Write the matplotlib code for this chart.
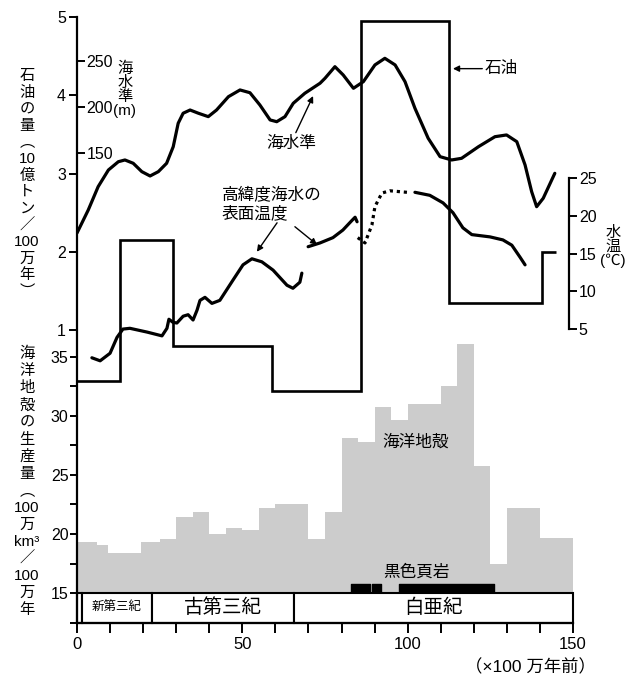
import matplotlib
matplotlib.use("Agg")
import matplotlib.pyplot as plt

plt.rcParams['font.family'] = ['Liberation Sans', 'Noto Sans CJK JP']

# oil amount (10^9 t / Myr), stepped
oil_edges = [0, 13, 29, 59, 86, 112.5, 140.5, 145]
oil_values = [0.35, 2.15, 0.8, 0.22, 4.95, 1.35, 2.0]

# ocean crust production (10^6 km3 / Myr), stepped bins
crust_edges = [0, 6, 9.5, 19.5, 25, 30, 35, 40, 45, 50, 55, 60, 70, 75, 80,
               85, 90, 95, 100, 110, 115, 120, 125, 130, 140, 150]
crust_values = [19.3, 19.1, 18.4, 19.3, 19.6, 21.4, 21.9, 20.0, 20.5, 20.3, 22.2,
                22.5, 19.6, 21.9, 28.1, 27.8, 30.8, 29.7, 31.0, 32.5, 36.1, 25.8,
                17.5, 22.2, 19.7]

# black shale intervals
shale_start = [82.9, 89.2, 97.4]
shale_end = [88.6, 91.9, 126.1]

# sea level (m)
sea_x = [0, 3.4, 6.4, 9.5, 12.5, 14.5, 17.0, 19.6, 22.1, 24.6, 27.1, 29.1, 30.6,
         32.1, 34.2, 36.7, 39.7, 42.2, 45.8, 49.3, 52.3, 55.3, 58.4, 60.4, 62.9,
         65.4, 68.9, 73.5, 75.0, 78.0, 80.5, 83.6, 86.6, 90.1, 93.1, 96.2, 99.2,
         102.2, 106.2, 109.8, 113.3, 116.3, 121.4, 126.4, 129.9, 133.0, 135.5,
         137.5, 139.0, 141.0, 144.5]
sea_m = [63, 88.0, 113.4, 131.5, 140.5, 142.4, 138.8, 129.7, 125.0, 129.7, 138.8,
         156.8, 182.3, 193.2, 196.7, 193.2, 189.5, 196.7, 211.2, 218.5, 215.5,
         202.2, 185.9, 184.0, 189.5, 204.0, 214.9, 225.8, 231.2, 243.8, 234.8,
         220.3, 227.5, 245.7, 252.9, 245.7, 227.5, 198.6, 166.0, 146.0, 142.4,
         144.2, 156.8, 167.7, 169.6, 162.3, 137.0, 107.9, 91.6, 100.8, 127.9]

# high latitude sea surface temperature (deg C), three solid parts + dotted part
temp1_x = [4.5, 7.0, 10.0, 12.1, 13.9, 16.0, 21.2, 25.7, 27.2, 27.8, 29.0, 30.2,
           32.1, 33.6, 35.1, 36.3, 37.2, 38.7, 40.8, 43.2, 47.2, 50.2, 52.9, 55.9,
           59.3, 63.5, 65.3, 67.4, 68.0]
temp1_t = [1.2, 0.8, 1.8, 3.9, 5.0, 5.1, 4.6, 4.1, 5.1, 6.3, 5.9, 5.8, 6.7, 6.9,
           6.2, 7.5, 8.8, 9.2, 8.4, 8.8, 11.5, 13.5, 14.3, 13.9, 12.8, 10.8, 10.4,
           11.2, 12.4]
temp2_x = [69.9, 73.5, 77.4, 80.4, 83.2, 84.1, 84.7]
temp2_t = [15.9, 16.4, 17.1, 18.1, 19.4, 19.8, 19.2]
tempd_x = [84.9, 87.1, 89.2, 90.1, 92.2, 94.6, 99.8]
tempd_t = [17.1, 16.4, 18.8, 21.2, 23.0, 23.3, 23.1]
temp3_x = [102.2, 106.7, 110.7, 113.7, 116.7, 119.4, 124.9, 128.8, 131.5, 134.0, 135.5]
temp3_t = [23.1, 22.7, 21.7, 20.4, 18.4, 17.5, 17.2, 16.8, 16.1, 14.5, 13.5]

# geologic periods
period_start = [0, 1.6, 22.6, 65.7]
period_end = [1.6, 22.6, 65.7, 150]
period_names = ['', '新第三紀', '古第三紀', '白亜紀']
period_size = [9, 9, 14, 14]

fig = plt.figure(figsize=(6.3, 6.75), dpi=100)
ax = fig.add_axes([77/630, 52/675, 496/630, 606/675])
ax.set_xlim(0, 150)
ax.set_ylim(12.46, 63.8)

# crust histogram
ax.stairs(crust_values, crust_edges, baseline=15, fill=True, color='#cccccc', lw=0)
ax.broken_barh([(s, e - s) for s, e in zip(shale_start, shale_end)], (15, 0.8),
               color='black')
for s, e, name, fs in zip(period_start, period_end, period_names, period_size):
    ax.add_patch(plt.Rectangle((s, 12.46), e - s, 15 - 12.46, facecolor='white',
                               edgecolor='black', lw=1.5, clip_on=False))
    ax.text((s + e) / 2, 13.73, name, ha='center', va='center', fontsize=fs)
ax.text(102.5, 27.8, '海洋地殻', ha='center', va='center', fontsize=12)
ax.text(102.8, 16.8, '黒色頁岩', ha='center', va='center', fontsize=12)

for side in ['top', 'right']:
    ax.spines[side].set_visible(False)
ax.spines['left'].set_linewidth(1.6)
ax.spines['bottom'].set_linewidth(1.6)
ax.set_yticks([15, 20, 25, 30, 35])
ax.set_yticks([12.5, 17.5, 22.5, 27.5, 32.5], minor=True)
ax.set_xticks([0, 50, 100, 150])
ax.set_xticks(range(0, 151, 10), minor=True)
ax.tick_params(axis='y', which='both', direction='out', length=5, width=1.4,
               labelsize=11.5, pad=1)
ax.tick_params(axis='x', which='both', direction='out', length=7, width=1.4,
               labelsize=12, pad=3)
ax.text(0.915, -0.072, '（×100 万年前）', transform=ax.transAxes, ha='center',
        va='center', fontsize=12.5)

# oil axis
ax_oil = ax.twinx()
ax_oil.set_ylim(-2.744, 5)
ax_oil.stairs(oil_values, oil_edges, baseline=None, color='black', lw=1.9)
ax_oil.yaxis.tick_left()
ax_oil.set_yticks([1, 2, 3, 4, 5])
ax_oil.tick_params(axis='y', direction='out', length=6, width=1.4, labelsize=11.5, pad=2)
for sp in ax_oil.spines.values():
    sp.set_visible(False)

arrow = dict(arrowstyle='-|>', color='black', lw=1.0, mutation_scale=9,
             shrinkA=0, shrinkB=0)
ax_oil.annotate('石油', xy=(113.7, 4.34), xytext=(123.4, 4.34), ha='left',
                va='center', fontsize=12, arrowprops=arrow)
ax_oil.annotate('海水準', xy=(71.4, 3.99), xytext=(64.7, 3.39), ha='center',
                va='center', fontsize=12, arrowprops=arrow)
ax_oil.text(43.8, 2.62, '高緯度海水の\n表面温度', ha='left', va='center',
            fontsize=12, linespacing=1.25)
ax_oil.annotate('', xy=(54.4, 2.0), xytext=(60.5, 2.37), arrowprops=arrow)
ax_oil.annotate('', xy=(72.6, 2.09), xytext=(65.9, 2.32), arrowprops=arrow)

# sea level axis
ax_sea = ax.twinx()
ax_sea.set_ylim(-360.9, 297.8)
ax_sea.plot(sea_x, sea_m, color='black', lw=2.3, solid_joinstyle='round',
            solid_capstyle='round')
ax_sea.spines['right'].set_position(('axes', 0))
for sp in ax_sea.spines.values():
    sp.set_visible(False)
ax_sea.set_yticks([150, 200, 250])
ax_sea.tick_params(axis='y', direction='out', length=6, width=1.4, labelsize=11.5, pad=1)

# temperature axis
ax_temp = ax.twinx()
ax_temp.set_ylim(-33.9, 46.3)
for tx, tt in [(temp1_x, temp1_t), (temp2_x, temp2_t), (temp3_x, temp3_t)]:
    ax_temp.plot(tx, tt, color='black', lw=2.3, solid_joinstyle='round',
                 solid_capstyle='round')
ax_temp.plot(tempd_x, tempd_t, color='black', lw=2.3, linestyle=(0, (1, 1.2)))
for side in ['left', 'top', 'bottom']:
    ax_temp.spines[side].set_visible(False)
ax_temp.spines['right'].set_position(('data', 148.8))
ax_temp.spines['right'].set_bounds(5, 25)
ax_temp.spines['right'].set_linewidth(1.6)
ax_temp.set_yticks([5, 10, 15, 20, 25])
ax_temp.tick_params(axis='y', direction='out', length=6, width=1.4, labelsize=11.5, pad=1)

# axis titles (vertical writing)
oil_label = ['石', '油', 'の', '量', '︵', '10', '億', 'ト', 'ン', '／', '100', '万', '年', '︶']
crust_label = ['海', '洋', '地', '殻', 'の', '生', '産', '量', '︵', '100', '万',
               'km³', '／', '100', '万', '年']
fig.text(27/630, 1 - 184/675, '\n'.join(oil_label), ha='center', va='center',
         fontsize=11, linespacing=1.23)
fig.text(27/630, 1 - 482/675, '\n'.join(crust_label), ha='center', va='center',
         fontsize=11, linespacing=1.27)
fig.text(125/630, 1 - 62/675, '海\n水\n準\n(m)', ha='center', va='top',
         fontsize=11, linespacing=1.0)
fig.text(613/630, 1 - 226/675, '水\n温\n(℃)', ha='center', va='top',
         fontsize=11, linespacing=1.0)

fig.savefig('out.png', dpi=100)
